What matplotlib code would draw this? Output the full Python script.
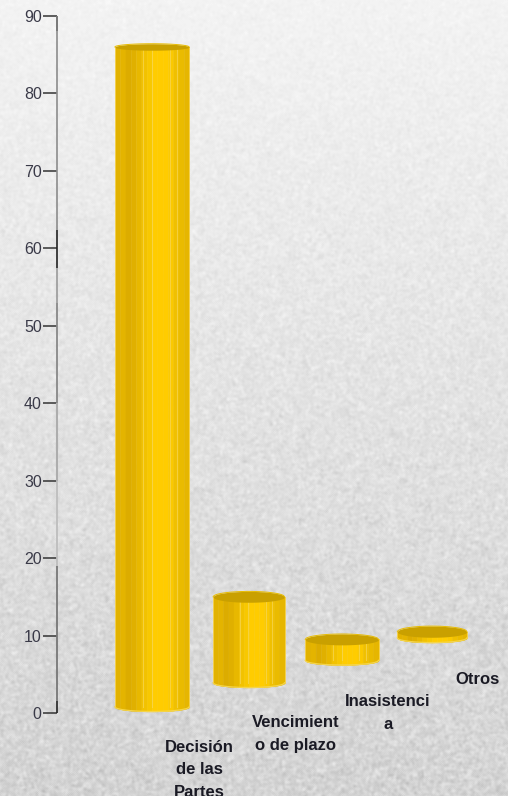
import numpy as np
import matplotlib
matplotlib.use('Agg')
import matplotlib.pyplot as plt

categories = ['Decisión\nde las\nPartes', 'Vencimient\no de plazo', 'Inasistenci\na', 'Otros']
top_values = [86.0, 15.0, 9.5, 10.5]
base_values = [0.8, 3.9, 6.8, 9.7]
y_ticks = [0, 10, 20, 30, 40, 50, 60, 70, 80, 90]

bar_pos = [0, 1.03, 2.02, 2.98]
bar_width = [0.79, 0.76, 0.78, 0.74]
label_pos = [0.5, 1.53, 2.51, 3.46]
label_top = [-3.5, -0.3, 2.4, 5.3]
top_ry = [0.42, 0.7, 0.7, 0.72]

# vertical stripes of the cylinder, left to right
stripes = ['#e2b200', '#e4b400', '#dcac00', '#e0b000', '#e8b800', '#f2c200', '#f8c800',
           '#ffcc00', '#ffcc00', '#ffcc00', '#fbc900', '#f0c000', '#eabb00', '#e6b600']
pale_lines = [0.38, 0.495, 0.74, 0.83]
top_color = '#c9a000'

# grey of the y axis line, piece by piece (from, to, colour, width)
axis_parts = [(0, 1.5, '#222222', 1.2), (1.5, 19, '#777777', 1.3), (19, 30, '#bdbdbd', 1.3),
              (30, 40, '#adadad', 1.5), (40, 53, '#888888', 1.3), (53, 57.5, '#9a9a9a', 1.2),
              (57.5, 62.4, '#222222', 1.2), (62.4, 80, '#8c8c8c', 1.2), (80, 88, '#8c8c8c', 1.2),
              (88, 90, '#777777', 1.4)]

W, H = 508, 796
fig = plt.figure(figsize=(W / 100, H / 100), dpi=100)

# paper texture
bg = fig.add_axes([0, 0, 1, 1], zorder=0)
rng = np.random.default_rng(3)
noise = rng.normal(0, 1, (H, W))
for i in range(3):
    noise = (noise + np.roll(noise, 1, 0) + np.roll(noise, -1, 0) + np.roll(noise, 1, 1) + np.roll(noise, -1, 1)) / 5
noise = noise / noise.std()
grad = np.linspace(0.95, 0.825, H)[:, None]
amount = np.linspace(0.006, 0.022, H)[:, None]
bg.imshow(np.clip(grad + noise * amount, 0, 1), cmap='gray', vmin=0, vmax=1, aspect='auto')
bg.axis('off')

ax = fig.add_axes([57 / W, (H - 713) / H, (W - 57) / W, (713 - 16) / H], zorder=1)
ax.patch.set_alpha(0)
ax.set_xlim((57 - 152) / 94, (W - 152) / 94)
ax.set_ylim(0, 90)

for pos, w, top, base, ry in zip(bar_pos, bar_width, top_values, base_values, top_ry):
    left = pos - w / 2
    cuts = np.linspace(left, left + w, len(stripes) + 1)
    for j, col in enumerate(stripes):
        xs = np.linspace(cuts[j], cuts[j + 1], 12)
        t = np.clip((xs - pos) / (w / 2), -1, 1)
        ax.fill_between(xs, base - 0.6 * np.sqrt(1 - t ** 2), top, color=col, lw=0.3, zorder=2)
    if top - base > 1:
        for f in pale_lines:
            ax.plot([left + f * w] * 2, [base, top], color='#f6d860', lw=0.8, alpha=0.65, zorder=3)
    xs = np.linspace(left, left + w, 80)
    t = np.clip((xs - pos) / (w / 2), -1, 1)
    curve = np.sqrt(1 - t ** 2)
    ax.plot(xs, base - 0.6 * curve, color='#f5d54a', lw=0.9, zorder=3)
    ax.fill_between(xs, top - ry * curve, top + ry * curve, color=top_color, lw=0, zorder=4)
    ax.plot(xs, top + ry * curve, color='#e8bc00', lw=0.7, zorder=4)
    ax.plot([left, left], [base, top], color='#f3d050', lw=0.7, zorder=3)
    ax.plot([left + w, left + w], [base, top], color='#f3d050', lw=0.7, zorder=3)

for lab, x, y in zip(categories, label_pos, label_top):
    ax.text(x, y, lab, ha='center', va='top', fontsize=12, fontweight='bold', family='Liberation Sans',
            color='#1a1a24', linespacing=1.6, clip_on=False, zorder=5)

for s in ['top', 'right', 'bottom', 'left']:
    ax.spines[s].set_visible(False)
for y0, y1, col, lw in axis_parts:
    ax.plot([0, 0], [y0, y1], transform=ax.get_yaxis_transform(), color=col, lw=lw, clip_on=False,
            solid_capstyle='butt', zorder=3)
ax.set_xticks([])
ax.set_yticks(y_ticks)
ax.tick_params(axis='y', length=10, width=1.1, color='#333333', labelcolor='#3a3a48', labelsize=11.5, pad=1)
for t in ax.get_yticklabels():
    t.set_family('Liberation Sans')

fig.savefig('out.png', dpi=100)
